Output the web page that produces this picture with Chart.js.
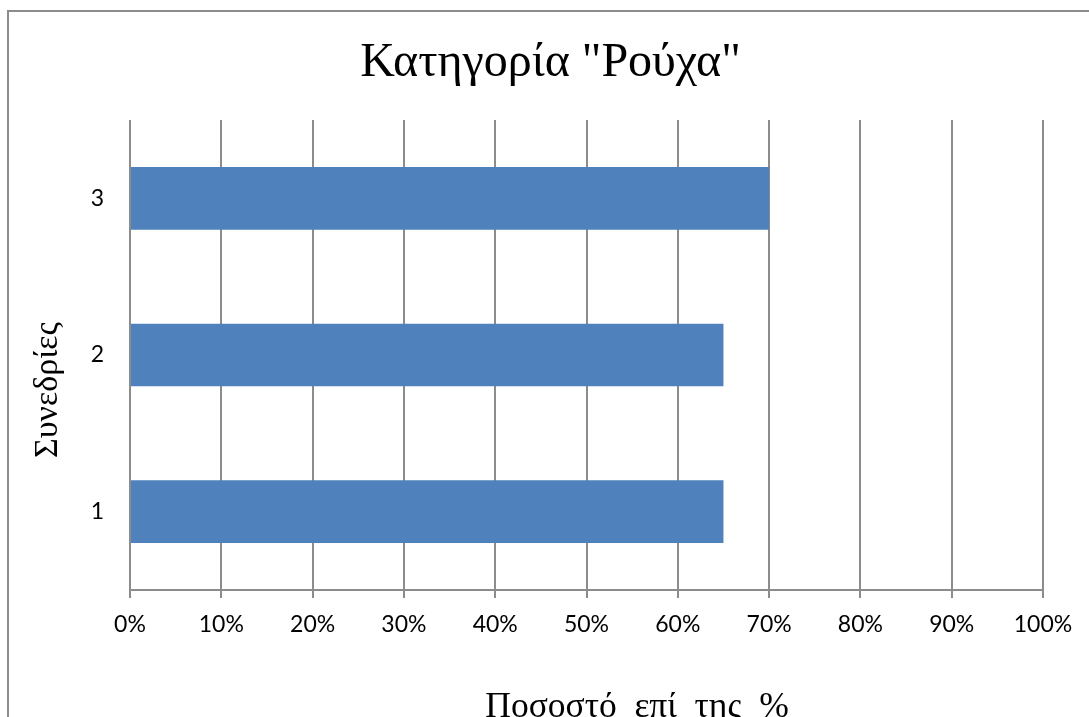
<!DOCTYPE html>
<html>
<head>
<meta charset="utf-8">
<script src="https://cdn.jsdelivr.net/npm/chart.js@4"></script>
<style>
  body { margin: 0; background: #fff; }
  #wrap { width: 1089px; height: 717px; }
</style>
</head>
<body>
<div id="wrap"><canvas id="chart" width="1089" height="717"></canvas></div>
<script>
// data
const sessions = ['1', '2', '3']
const percents = [65, 65, 70]
const xTicks = [0, 10, 20, 30, 40, 50, 60, 70, 80, 90, 100]

const chartTitle = 'Κατηγορία "Ρούχα"'
const xCaption = 'Ποσοστό  επί  της  %'
const yCaption = 'Συνεδρίες'

const gridColor = '#8c8c8c'
const serif = '"Liberation Serif", "Times New Roman", serif'

// frame + axis captions
const decor = {
    id: 'decor',
    afterLayout(chart) {
        // the title sits a bit right of the canvas center
        chart.titleBlock.left = 12
        chart.titleBlock.right = chart.width
    },
    beforeDraw(chart) {
        const ctx = chart.ctx
        ctx.save()
        ctx.strokeStyle = gridColor
        ctx.lineWidth = 2
        ctx.strokeRect(8, 11, chart.width + 50, chart.height + 50)
        ctx.restore()
    },
    afterDraw(chart) {
        const ctx = chart.ctx
        ctx.save()
        ctx.fillStyle = '#000'
        ctx.textAlign = 'center'
        ctx.textBaseline = 'middle'
        ctx.font = '35.5px ' + serif
        ctx.fillText(xCaption, 637, 708)
        ctx.translate(48, 390)
        ctx.rotate(-Math.PI / 2)
        ctx.font = '34px ' + serif
        ctx.fillText(yCaption, 0, 0)
        ctx.restore()
    }
}

new Chart(document.getElementById('chart'), {
    type: 'bar',
    data: {
        labels: sessions,
        datasets: [
            {
                data: percents,
                backgroundColor: '#4f81bd',
                borderWidth: 0,
                barPercentage: 0.4,
                categoryPercentage: 1
            }
        ]
    },
    options: {
        indexAxis: 'y',
        responsive: false,
        animation: false,
        layout: { padding: { left: 0, right: 46, top: 0, bottom: 0 } },
        plugins: {
            legend: { display: false },
            tooltip: { enabled: false },
            title: {
                display: true,
                text: chartTitle,
                color: '#000',
                font: { family: serif, size: 48, weight: 'normal', lineHeight: 1.2 },
                padding: { top: 35, bottom: 27.4 }
            }
        },
        scales: {
            x: {
                min: xTicks[0],
                max: xTicks[xTicks.length - 1],
                afterBuildTicks(scale) {
                    scale.ticks = xTicks.map(v => ({ value: v }))
                },
                afterFit(scale) { scale.height = 127 },
                grid: { color: gridColor, lineWidth: 2, tickLength: 8, drawTicks: true },
                border: { color: gridColor, width: 2 },
                ticks: {
                    color: '#000',
                    padding: 13,
                    maxRotation: 0,
                    font: { family: 'Lato', size: 23 },
                    callback: v => v + '%'
                }
            },
            y: {
                reverse: true,
                afterFit(scale) { scale.width = 130 },
                grid: { display: false, drawTicks: false },
                border: { display: false },
                ticks: {
                    color: '#000',
                    padding: 26,
                    font: { family: 'Lato', size: 23 }
                }
            }
        }
    },
    plugins: [decor]
});
</script>
</body>
</html>
